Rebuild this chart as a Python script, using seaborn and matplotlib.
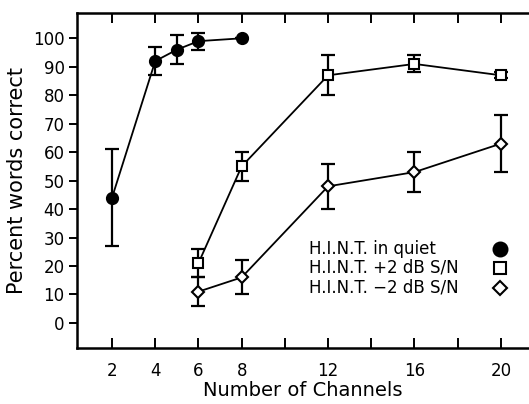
import numpy as np
import pandas as pd
import matplotlib
matplotlib.use('Agg')
import matplotlib.pyplot as plt
import seaborn as sns

# data
quiet_ch = [2, 4, 5, 6, 8]
quiet_pct = [44, 92, 96, 99, 100]
quiet_err = [17, 5, 5, 3, 0]

plus2_ch = [6, 8, 12, 16, 20]
plus2_pct = [21, 55, 87, 91, 87]
plus2_err = [5, 5, 7, 3, 1]

minus2_ch = [6, 8, 12, 16, 20]
minus2_pct = [11, 16, 48, 53, 63]
minus2_err = [5, 6, 8, 7, 10]

series = [
    ("H.I.N.T. in quiet", quiet_ch, quiet_pct, quiet_err, "o", "black"),
    ("H.I.N.T. +2 dB S/N", plus2_ch, plus2_pct, plus2_err, "s", "white"),
    ("H.I.N.T. \u22122 dB S/N", minus2_ch, minus2_pct, minus2_err, "D", "white"),
]

x_ticks = list(range(2, 21, 2))
x_ticklabels = ["2", "4", "6", "8", "", "12", "", "16", "", "20"]
y_ticks = list(range(0, 101, 10))

sns.set_theme(style="ticks")
plt.rcParams['font.family'] = ['DejaVu Sans']
plt.rcParams['text.color'] = 'black'
plt.rcParams['axes.labelcolor'] = 'black'

fig = plt.figure(figsize=(5.29, 4.04), dpi=100)
ax = fig.add_axes([0.1456, 0.1386, 0.8544, 0.83])

for label, ch, pct, err, mk, face in series:
    df = pd.DataFrame({"channels": ch, "percent": pct})
    ax.errorbar(ch, pct, yerr=err, fmt="none", ecolor="black",
                elinewidth=1.6, capsize=5, capthick=1.6, zorder=2)
    msize = 8 if mk == "o" else (7.5 if mk == "s" else 6.5)
    sns.lineplot(data=df, x="channels", y="percent", ax=ax, color="black",
                 linewidth=1.3, marker=mk, markersize=msize,
                 markerfacecolor=face, markeredgecolor="black",
                 markeredgewidth=1.5, zorder=3)

# key drawn as text with markers on the right
key_y = [0.295, 0.2386, 0.179]
for (label, ch, pct, err, mk, face), yy in zip(series, key_y):
    ax.text(0.513, yy, label, transform=ax.transAxes, fontsize=12,
            va="center", ha="left", color="black")
    msize = 10 if mk == "o" else (8.5 if mk == "s" else 7.5)
    ax.plot([0.935], [yy], marker=mk, markersize=msize, markerfacecolor=face,
            markeredgecolor="black", markeredgewidth=1.5, color="black",
            transform=ax.transAxes, clip_on=False)

ax.set_xlim(0.38, 21.3)
ax.set_ylim(-8.8, 109)
ax.set_xticks(x_ticks)
ax.set_xticklabels(x_ticklabels)
ax.set_yticks(y_ticks)

ax.tick_params(axis="x", direction="in", top=True, bottom=True, length=7,
               width=1.4, labelsize=12, pad=10, colors="black")
ax.tick_params(axis="y", direction="out", left=True, right=False, length=6,
               width=1.4, labelsize=12, pad=3, colors="black")

for side in ["left", "bottom", "top"]:
    ax.spines[side].set_linewidth(1.8)
    ax.spines[side].set_color("black")
ax.spines["right"].set_visible(False)

ax.set_xlabel("Number of Channels", fontsize=14, labelpad=1)
ax.set_ylabel("Percent words correct", fontsize=15, labelpad=4)

fig.savefig("out.png", dpi=100)
